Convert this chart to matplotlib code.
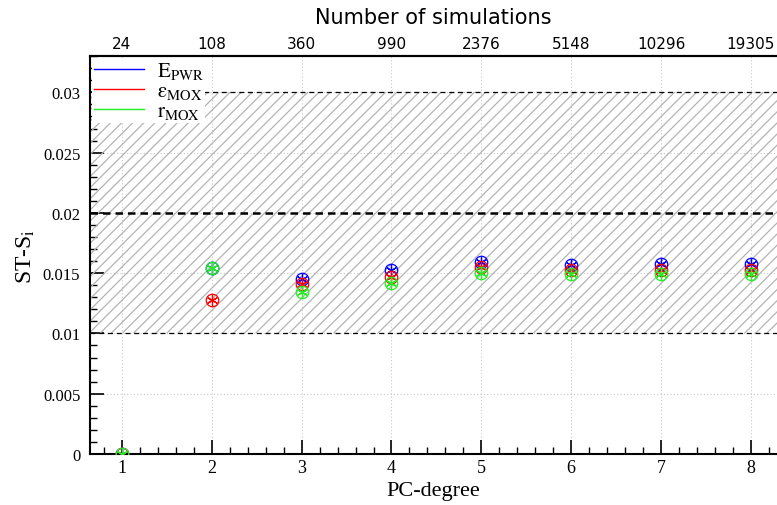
import matplotlib.pyplot as plt
from matplotlib.ticker import MultipleLocator

pc_degree = [1, 2, 3, 4, 5, 6, 7, 8]
n_sims = ["24", "108", "360", "990", "2376", "5148", "10296", "19305"]

e_pwr = [0.0, 0.0154, 0.0145, 0.0153, 0.0159, 0.0157, 0.0158, 0.0158]
eps_mox = [0.0, 0.0128, 0.0141, 0.0147, 0.0155, 0.0153, 0.0153, 0.0153]
r_mox = [0.0, 0.0154, 0.0134, 0.0142, 0.0150, 0.0149, 0.0149, 0.0149]

band_low, band_mid, band_high = 0.01, 0.02, 0.03

plt.rcParams['hatch.color'] = '#b4b4b4'
plt.rcParams['hatch.linewidth'] = 0.9
plt.rcParams['mathtext.fontset'] = 'stix'

fig = plt.figure(figsize=(7.77, 5.06), dpi=100)
ax = fig.add_axes([0.1158, 0.1008, 0.8842, 0.7862])

xmin, xmax = 0.645, 8.29
ax.set_xlim(xmin, xmax)
ax.set_ylim(0, 0.033)

# band
ax.fill_between([xmin, xmax], band_low, band_high, facecolor='none',
                hatch='///', edgecolor='#b4b4b4', linewidth=0, zorder=1)
ax.axhline(band_low, color='black', ls=(0, (4, 3)), lw=0.9, zorder=2)
ax.axhline(band_high, color='black', ls=(0, (4, 3)), lw=0.9, zorder=2)
ax.axhline(band_mid, color='black', ls=(0, (3, 2)), lw=1.8, zorder=2)

ax.grid(True, color='#c8c8c8', ls=(0, (1, 2)), lw=0.8)
ax.set_axisbelow(True)

series = [(e_pwr, 'blue', r'$\mathrm{E_{PWR}}$'),
          (eps_mox, 'red', r'$\mathrm{\varepsilon_{MOX}}$'),
          (r_mox, '#22ee22', r'$\mathrm{r_{MOX}}$')]
for vals, col, lab in series:
    ax.plot(pc_degree, vals, ls='none', marker='o', ms=9, mfc='none',
            mec=col, mew=0.9, zorder=4)
    ax.plot(pc_degree, vals, ls='none', marker=(6, 2, 0), ms=8,
            mec=col, mew=0.9, zorder=4)
    ax.plot([], [], color=col, lw=1.0, label=lab)

leg = ax.legend(loc='upper left', frameon=True, handlelength=2.4,
                labelspacing=0.0, borderaxespad=0.1, handletextpad=0.6,
                borderpad=0.1, fancybox=False,
                prop={'family': 'STIXGeneral', 'size': 15})
leg.get_frame().set_facecolor('white')
leg.get_frame().set_edgecolor('none')
leg.get_frame().set_alpha(1.0)
leg.set_zorder(5)

ax.xaxis.set_major_locator(MultipleLocator(1))
ax.xaxis.set_minor_locator(MultipleLocator(0.2))
ax.yaxis.set_major_locator(MultipleLocator(0.005))
ax.yaxis.set_minor_locator(MultipleLocator(0.001))
ax.tick_params(which='both', direction='in', top=False, right=False)
ax.tick_params(which='major', length=10, width=1.2)
ax.tick_params(which='minor', length=5, width=1.0)
ax.tick_params(axis='y', pad=7)
ax.set_yticks([0, 0.005, 0.01, 0.015, 0.02, 0.025, 0.03])
ax.set_yticklabels(['0', '0.005', '0.01', '0.015', '0.02', '0.025', '0.03'],
                   family='Liberation Serif', fontsize=12)
ax.set_xticks(pc_degree)
ax.set_xticklabels([str(p) for p in pc_degree], family='Liberation Serif',
                   fontsize=13)
ax.xaxis.set_minor_locator(MultipleLocator(0.2))
ax.yaxis.set_minor_locator(MultipleLocator(0.001))

ax.spines['right'].set_visible(False)
ax.spines['left'].set_linewidth(1.5)
ax.spines['bottom'].set_linewidth(1.5)
ax.spines['top'].set_linewidth(1.5)

ax.set_xlabel('PC-degree', family='Liberation Serif', fontsize=16)
ax.set_ylabel(r'ST-S$_\mathrm{i}$', family='Liberation Serif', fontsize=17)

top = ax.twiny()
top.set_xlim(ax.get_xlim())
top.set_xticks(pc_degree)
top.set_xticklabels(n_sims, fontsize=11)
top.tick_params(length=0, pad=4)
top.set_xlabel('Number of simulations', fontsize=15, labelpad=9)
for s in ['right', 'left', 'bottom']:
    top.spines[s].set_visible(False)
top.spines['top'].set_linewidth(1.5)

fig.savefig('out.png', dpi=100)
